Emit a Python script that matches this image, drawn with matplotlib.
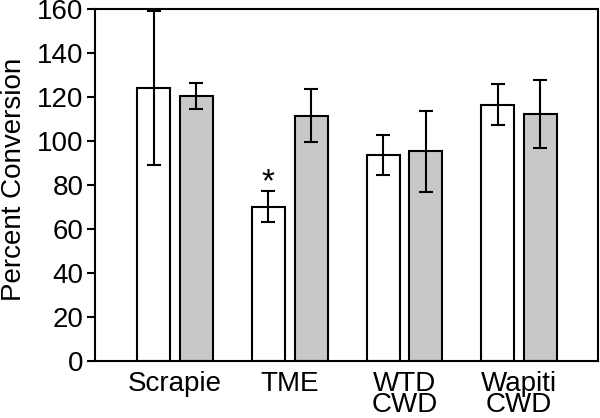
import matplotlib
matplotlib.use("Agg")
import matplotlib.pyplot as plt
import numpy as np

categories = ["Scrapie", "TME", "WTD\nCWD", "Wapiti\nCWD"]
white_vals = [124.2, 70.1, 93.6, 116.4]
white_err = [35.0, 7.0, 9.2, 9.3]
gray_vals = [120.4, 111.5, 95.3, 112.3]
gray_err = [6.0, 12.0, 18.5, 15.3]
ylabel = "Percent Conversion"
yticks = [0, 20, 40, 60, 80, 100, 120, 140, 160]

plt.rcParams['font.family'] = ['Liberation Sans', 'DejaVu Sans']

fig = plt.figure(figsize=(6.0, 4.18), dpi=100)
ax = fig.add_axes([0.158, 0.1364, 0.839, 0.8421])

x = np.arange(len(categories))
off = 0.186
w = 0.288
ekw = dict(elinewidth=1.5, capthick=1.5, ecolor='black')
ax.bar(x - off, white_vals, w, color='white', edgecolor='black', linewidth=1.5,
       yerr=white_err, capsize=4.7, error_kw=ekw, zorder=2)
ax.bar(x + off, gray_vals, w, color='#c8c8c8', edgecolor='black', linewidth=1.5,
       yerr=gray_err, capsize=4.7, error_kw=ekw, zorder=2)

ax.text(1 - off, 81, "*", ha='center', va='center', fontsize=24)

ax.set_xlim(-0.70, 3.69)
ax.set_ylim(0, 160)
ax.set_yticks(yticks)
ax.set_xticks(x)
ax.set_xticklabels(categories, fontsize=20, linespacing=0.78)
ax.tick_params(axis='x', length=0, pad=7)
ax.tick_params(axis='y', direction='out', length=6, width=1.5, labelsize=20, pad=2)
for s in ax.spines.values():
    s.set_linewidth(1.5)
ax.set_ylabel(ylabel, fontsize=20)
ax.yaxis.set_label_coords(-0.135, 0.515)

fig.savefig("out.png", dpi=100)
